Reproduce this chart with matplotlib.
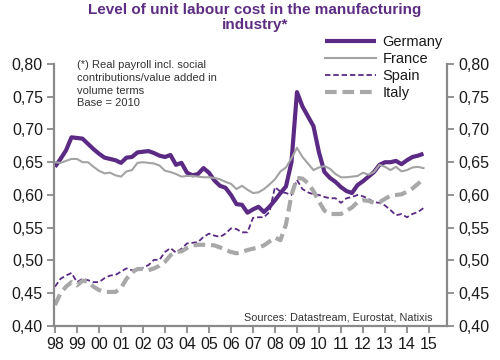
import matplotlib
matplotlib.use("Agg")
import matplotlib.pyplot as plt
import numpy as np
from matplotlib.ticker import FuncFormatter

plt.rcParams['font.family'] = ['Liberation Sans', 'DejaVu Sans']

start_year = 1998
germany = [0.643, 0.655, 0.668, 0.688, 0.687, 0.686, 0.678, 0.670, 0.663, 0.657,
           0.655, 0.653, 0.649, 0.657, 0.658, 0.665, 0.666, 0.667, 0.664, 0.660,
           0.658, 0.661, 0.646, 0.649, 0.634, 0.630, 0.632, 0.641, 0.634, 0.622,
           0.614, 0.611, 0.600, 0.586, 0.585, 0.573, 0.578, 0.582, 0.574, 0.582,
           0.592, 0.603, 0.613, 0.650, 0.757, 0.735, 0.720, 0.705, 0.665, 0.635,
           0.626, 0.620, 0.612, 0.606, 0.603, 0.615, 0.621, 0.628, 0.635, 0.646,
           0.650, 0.650, 0.652, 0.647, 0.653, 0.658, 0.660, 0.663]
france = [0.650, 0.649, 0.652, 0.655, 0.655, 0.650, 0.650, 0.643, 0.637, 0.633,
          0.634, 0.630, 0.628, 0.636, 0.638, 0.649, 0.650, 0.649, 0.648, 0.645,
          0.637, 0.635, 0.632, 0.628, 0.629, 0.629, 0.628, 0.627, 0.627, 0.626,
          0.624, 0.620, 0.617, 0.609, 0.614, 0.608, 0.603, 0.604, 0.609, 0.616,
          0.624, 0.636, 0.642, 0.656, 0.672, 0.658, 0.648, 0.638, 0.642, 0.644,
          0.640, 0.632, 0.627, 0.627, 0.628, 0.629, 0.634, 0.631, 0.635, 0.646,
          0.643, 0.638, 0.643, 0.636, 0.638, 0.642, 0.643, 0.641]
spain = [0.460, 0.472, 0.477, 0.481, 0.467, 0.472, 0.470, 0.467, 0.467, 0.473,
         0.477, 0.478, 0.483, 0.488, 0.485, 0.487, 0.489, 0.493, 0.501, 0.501,
         0.513, 0.519, 0.512, 0.518, 0.526, 0.527, 0.528, 0.536, 0.541, 0.538,
         0.536, 0.541, 0.549, 0.548, 0.543, 0.543, 0.565, 0.566, 0.566, 0.574,
         0.612, 0.605, 0.603, 0.600, 0.623, 0.609, 0.604, 0.601, 0.600, 0.597,
         0.595, 0.595, 0.588, 0.595, 0.597, 0.600, 0.598, 0.594, 0.589, 0.588,
         0.584, 0.577, 0.569, 0.571, 0.566, 0.571, 0.574, 0.580]
italy = [0.432, 0.450, 0.460, 0.467, 0.462, 0.469, 0.468, 0.460, 0.455, 0.452,
         0.452, 0.452, 0.458, 0.472, 0.482, 0.487, 0.487, 0.485, 0.488, 0.492,
         0.498, 0.508, 0.513, 0.514, 0.519, 0.523, 0.524, 0.524, 0.524, 0.523,
         0.520, 0.516, 0.513, 0.511, 0.513, 0.516, 0.518, 0.520, 0.523, 0.529,
         0.535, 0.531, 0.555, 0.600, 0.626, 0.625, 0.618, 0.606, 0.590, 0.576,
         0.571, 0.571, 0.571, 0.576, 0.581, 0.589, 0.592, 0.591, 0.588, 0.589,
         0.594, 0.599, 0.600, 0.601, 0.605, 0.610, 0.617, 0.625]
year_ticks = list(range(1998, 2016))
year_labels = ['98', '99', '00', '01', '02', '03', '04', '05', '06', '07',
               '08', '09', '10', '11', '12', '13', '14', '15']
y_ticks = [0.40, 0.45, 0.50, 0.55, 0.60, 0.65, 0.70, 0.75, 0.80]

x = start_year + np.arange(len(germany)) / 4.0

purple = '#5a2a84'
grey_line = '#a3a3a3'
grey_it = '#a8a8a8'
spine_c = '#8a8a8a'

fig = plt.figure(figsize=(5.0, 3.6), dpi=100)
ax = fig.add_axes([0.108, 0.0944, 0.786, 0.728])

ax.plot(x, germany, color=purple, lw=3.0, label='Germany', solid_capstyle='butt')
ax.plot(x, france, color=grey_line, lw=1.5, label='France')
ax.plot(x, spain, color=purple, lw=1.3, dashes=(3, 1.6), label='Spain')
ax.plot(x, italy, color=grey_it, lw=3.0, dashes=(2.8, 1.4), label='Italy')

ax.set_xlim(1997.955, 2015.82)
ax.set_ylim(0.40, 0.80)
fmt = FuncFormatter(lambda v, p: f"{v:.2f}".replace('.', ','))
ax.set_yticks(y_ticks)
ax.yaxis.set_major_formatter(fmt)
ax.set_xticks(year_ticks)
ax.set_xticklabels(year_labels)

ax2 = ax.twinx()
ax2.set_position(ax.get_position())
ax2.set_ylim(0.40, 0.80)
ax2.set_yticks(y_ticks)
ax2.yaxis.set_major_formatter(fmt)

for a in (ax, ax2):
    a.spines['top'].set_visible(False)
    for s in ('left', 'right', 'bottom'):
        a.spines[s].set_color(spine_c)
        a.spines[s].set_linewidth(1.6)
    a.tick_params(axis='both', colors=spine_c, length=5, width=1.3,
                  labelsize=11.5, labelcolor='#1a1a1a', pad=3)
ax.spines['right'].set_visible(False)
ax2.spines['left'].set_visible(False)
ax2.spines['bottom'].set_visible(False)

fig.text(0.51, 1 - 3 / 360, 'Level of unit labour cost in the manufacturing\nindustry*',
         ha='center', va='top', fontsize=11, fontweight='bold', color='#5c2d82',
         linespacing=1.05)

fig.text(77 / 500, 1 - 60 / 360,
         '(*) Real payroll incl. social\ncontributions/value added in\nvolume terms\nBase = 2010',
         ha='left', va='top', fontsize=8, color='#333333', linespacing=1.35)

fig.text(433 / 500, 1 - 317 / 360, 'Sources: Datastream, Eurostat, Natixis',
         ha='right', va='center', fontsize=7.8, color='#333333')

handles, labels = ax.get_legend_handles_labels()
fig.legend(handles, labels, loc='upper left', bbox_to_anchor=(325 / 500, 1 - 35 / 360),
           frameon=False, fontsize=10.5, handlelength=3.5, handletextpad=0.45,
           labelspacing=0.2, borderpad=0, borderaxespad=0, labelcolor='#1a1a1a')

fig.savefig('out.png', dpi=100)
